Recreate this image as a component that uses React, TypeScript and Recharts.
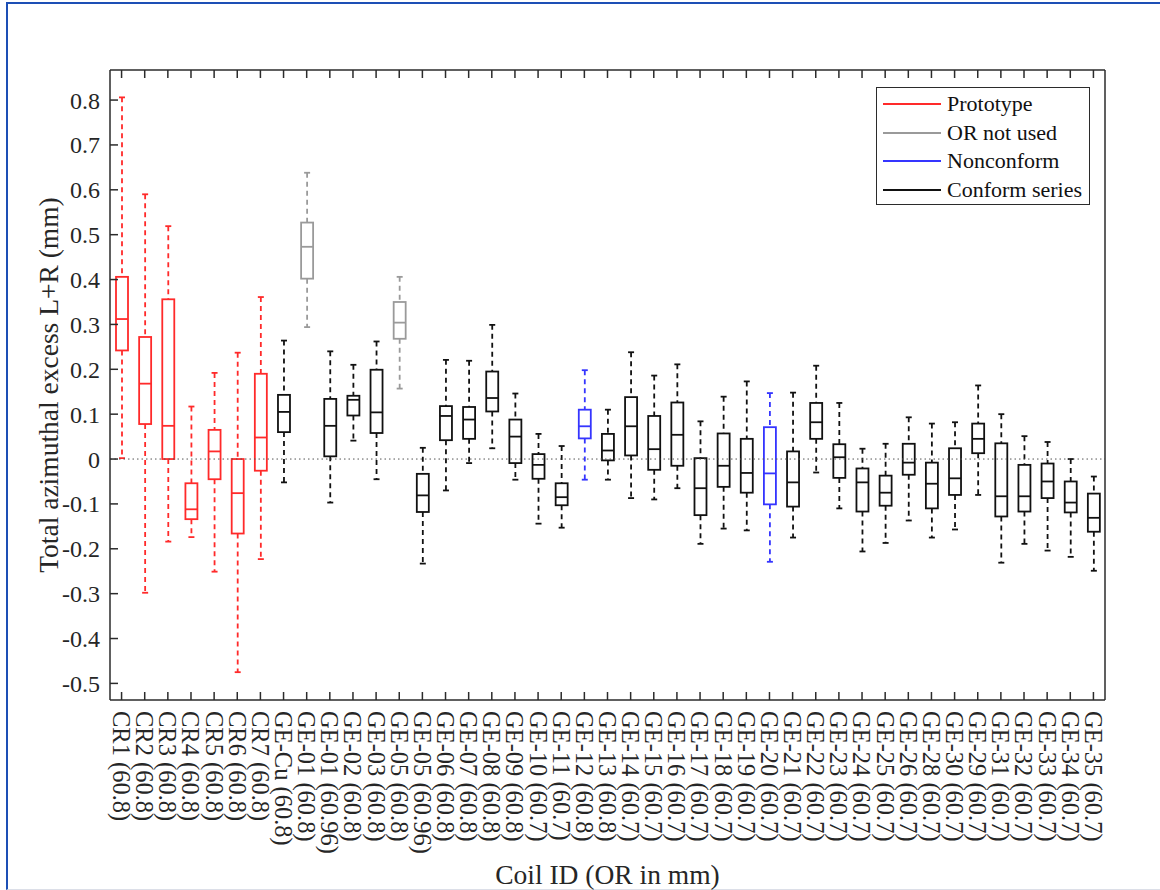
import {Bar, ComposedChart, Legend, ReferenceLine, XAxis, YAxis} from 'recharts';

// coil ids in plot order (OR in mm)
const coilIds = [
    'CR1 (60.8)', 'CR2 (60.8)', 'CR3 (60.8)', 'CR4 (60.8)', 'CR5 (60.8)', 'CR6 (60.8)', 'CR7 (60.8)',
    'GE-Cu (60.8)', 'GE-01 (60.8)', 'GE-01 (60.96)', 'GE-02 (60.8)', 'GE-03 (60.8)', 'GE-05 (60.8)',
    'GE-05 (60.96)', 'GE-06 (60.8)', 'GE-07 (60.8)', 'GE-08 (60.8)', 'GE-09 (60.8)', 'GE-10 (60.7)',
    'GE-11 (60.7)', 'GE-12 (60.8)', 'GE-13 (60.8)', 'GE-14 (60.7)', 'GE-15 (60.7)', 'GE-16 (60.7)',
    'GE-17 (60.7)', 'GE-18 (60.7)', 'GE-19 (60.7)', 'GE-20 (60.7)', 'GE-21 (60.7)', 'GE-22 (60.7)',
    'GE-23 (60.7)', 'GE-24 (60.7)', 'GE-25 (60.7)', 'GE-26 (60.7)', 'GE-28 (60.7)', 'GE-30 (60.7)',
    'GE-29 (60.7)', 'GE-31 (60.7)', 'GE-32 (60.7)', 'GE-33 (60.7)', 'GE-34 (60.7)', 'GE-35 (60.7)',
];

// P = prototype, U = OR not used, N = nonconform, C = conform series
const groups = [
    'P', 'P', 'P', 'P', 'P', 'P', 'P',
    'C', 'U', 'C', 'C', 'C', 'U',
    'C', 'C', 'C', 'C', 'C', 'C',
    'C', 'N', 'C', 'C', 'C', 'C',
    'C', 'C', 'C', 'N', 'C', 'C',
    'C', 'C', 'C', 'C', 'C', 'C',
    'C', 'C', 'C', 'C', 'C', 'C',
];

const whiskerHigh = [
    0.806, 0.590, 0.519, 0.117, 0.192, 0.237, 0.361,
    0.264, 0.638, 0.240, 0.210, 0.262, 0.406,
    0.025, 0.221, 0.219, 0.299, 0.146, 0.056,
    0.029, 0.198, 0.110, 0.238, 0.186, 0.211,
    0.084, 0.139, 0.173, 0.147, 0.148, 0.208,
    0.125, 0.023, 0.034, 0.093, 0.079, 0.082,
    0.164, 0.100, 0.051, 0.038, 0.000, -0.039,
];

const q3s = [
    0.406, 0.272, 0.356, -0.054, 0.065, 0.000, 0.190,
    0.143, 0.527, 0.134, 0.141, 0.199, 0.350,
    -0.033, 0.118, 0.116, 0.195, 0.088, 0.011,
    -0.054, 0.110, 0.056, 0.138, 0.096, 0.126,
    0.002, 0.057, 0.045, 0.071, 0.017, 0.125,
    0.033, -0.021, -0.037, 0.034, -0.008, 0.024,
    0.079, 0.035, -0.013, -0.010, -0.050, -0.077,
];

const medians = [
    0.312, 0.168, 0.074, -0.112, 0.017, -0.076, 0.048,
    0.105, 0.473, 0.074, 0.132, 0.104, 0.304,
    -0.081, 0.096, 0.088, 0.136, 0.050, -0.013,
    -0.085, 0.073, 0.019, 0.073, 0.022, 0.054,
    -0.065, -0.015, -0.031, -0.032, -0.052, 0.082,
    0.004, -0.052, -0.075, -0.008, -0.055, -0.043,
    0.045, -0.083, -0.083, -0.050, -0.097, -0.131,
];

const q1s = [
    0.242, 0.078, 0.000, -0.134, -0.045, -0.166, -0.026,
    0.060, 0.402, 0.006, 0.097, 0.058, 0.268,
    -0.118, 0.042, 0.045, 0.106, -0.009, -0.044,
    -0.103, 0.046, -0.003, 0.008, -0.024, -0.015,
    -0.125, -0.062, -0.075, -0.101, -0.106, 0.045,
    -0.042, -0.117, -0.104, -0.035, -0.110, -0.080,
    0.013, -0.128, -0.117, -0.087, -0.119, -0.162,
];

const whiskerLow = [
    0.002, -0.298, -0.184, -0.174, -0.251, -0.475, -0.223,
    -0.052, 0.294, -0.097, 0.041, -0.045, 0.157,
    -0.233, -0.070, -0.009, 0.024, -0.046, -0.144,
    -0.153, -0.046, -0.046, -0.087, -0.090, -0.065,
    -0.189, -0.155, -0.159, -0.229, -0.175, -0.030,
    -0.110, -0.206, -0.187, -0.137, -0.175, -0.157,
    -0.080, -0.231, -0.189, -0.204, -0.218, -0.249,
];

const yTicks = [-0.5, -0.4, -0.3, -0.2, -0.1, 0, 0.1, 0.2, 0.3, 0.4, 0.5, 0.6, 0.7, 0.8];

const legendItems = [
    {key: 'P', name: 'Prototype'},
    {key: 'U', name: 'OR not used'},
    {key: 'N', name: 'Nonconform'},
    {key: 'C', name: 'Conform series'},
];

const groupColor: Record<string, string> = {P: '#ff2a2a', U: '#9a9a9a', N: '#3535ff', C: '#111111'};
const FONT = 'Liberation Serif';
const AXIS = '#2b2b2b';

const rows = coilIds.map((id, i) => ({
    id,
    group: groups[i],
    range: [whiskerLow[i], whiskerHigh[i]],
    q1: q1s[i],
    median: medians[i],
    q3: q3s[i],
}));

const BoxShape = (props: any) => {
    const {x, y, width, height, payload} = props;
    if (x == null || y == null) return null;
    const top = Math.min(y, y + height);
    const bottom = Math.max(y, y + height);
    const [lo, hi] = payload.range;
    const toPx = (v: number) => (hi === lo ? top : bottom - ((v - lo) / (hi - lo)) * (bottom - top));
    const color = groupColor[payload.group];
    const cx = x + width / 2;
    const yq3 = toPx(payload.q3);
    const yq1 = toPx(payload.q1);
    const ymed = toPx(payload.median);
    const cap = width * 0.25;
    return (
        <g stroke={color} fill="none" strokeWidth={1.8}>
            <line x1={cx} x2={cx} y1={top} y2={yq3} strokeDasharray="5 4"/>
            <line x1={cx} x2={cx} y1={yq1} y2={bottom} strokeDasharray="5 4"/>
            <line x1={cx - cap} x2={cx + cap} y1={top} y2={top}/>
            <line x1={cx - cap} x2={cx + cap} y1={bottom} y2={bottom}/>
            <rect x={x} y={yq3} width={width} height={Math.max(yq1 - yq3, 0.5)}/>
            <line x1={x} x2={x + width} y1={ymed} y2={ymed}/>
        </g>
    );
};

const CoilTick = ({x, y, payload}: any) => (
    <text x={x} y={y} transform={`rotate(90, ${x}, ${y})`} textAnchor="start" dy="0.35em"
          fontSize={24.5} style={{fontFamily: FONT}} fill="#262626">
        {payload.value}
    </text>
);

const YTitle = ({viewBox}: any) => {
    const cx = viewBox.x - 12;
    const cy = viewBox.y + viewBox.height / 2;
    return (
        <text x={cx} y={cy} transform={`rotate(-90, ${cx}, ${cy})`} textAnchor="middle" dominantBaseline="central"
              fontSize={27.5} style={{fontFamily: FONT}} fill="#262626">
            Total azimuthal excess L+R (mm)
        </text>
    );
};

const XTitle = ({viewBox}: any) => (
    <text x={viewBox.x + viewBox.width / 2} y={viewBox.y + 184} textAnchor="middle"
          fontSize={27.5} style={{fontFamily: FONT}} fill="#262626">
        Coil ID (OR in mm)
    </text>
);

const LegendBox = () => (
    <div style={{
        width: 214, height: 118, boxSizing: 'border-box', border: `1.5px solid ${AXIS}`, background: '#fff',
        padding: '2px 0 0 6px', fontFamily: FONT, fontSize: 22, color: '#111', lineHeight: 1,
    }}>
        {legendItems.map(item => (
            <div key={item.key} style={{display: 'flex', alignItems: 'center', height: 28.5}}>
                <span style={{display: 'inline-block', width: 58, height: 2, background: groupColor[item.key], marginRight: 6}}/>
                <span>{item.name}</span>
            </div>
        ))}
    </div>
);

export default function App() {
    return (
        <div style={{position: 'absolute', left: 0, top: 0, width: 1160, height: 890, background: '#fff', fontFamily: FONT}}>
            <div style={{
                position: 'absolute', left: 6, top: 2, width: 1160, height: 885,
                borderTop: '2px solid #1d4fb5', borderLeft: '2px solid #1d4fb5', borderBottom: '1px solid #dcdfe8',
            }}/>
            <ComposedChart width={1160} height={890} data={rows}
                           margin={{top: 69, right: 54, bottom: 0, left: 60}}
                           style={{fontFamily: FONT}}>
                <XAxis dataKey="id" interval={0} height={190} tickSize={-8} tickMargin={19}
                       stroke={AXIS} strokeWidth={1.5} tick={<CoilTick/>}
                       label={{content: (p: any) => <XTitle viewBox={p.viewBox}/>}}/>
                <XAxis xAxisId="top" dataKey="id" orientation="top" interval={0} height={1} tickSize={-8}
                       stroke={AXIS} strokeWidth={1.5} tick={() => <g/>}/>
                <YAxis type="number" domain={[-0.537, 0.867]} ticks={yTicks} interval={0} width={50}
                       tickSize={-8} tickMargin={18} stroke={AXIS} strokeWidth={1.5}
                       tickFormatter={(v: number) => (v === 0 ? '0' : v.toFixed(1))}
                       tick={{fontSize: 24, fill: '#262626', style: {fontFamily: FONT}}}
                       label={{content: (p: any) => <YTitle viewBox={p.viewBox}/>}}/>
                <YAxis yAxisId="right" orientation="right" type="number" domain={[-0.537, 0.867]} ticks={yTicks}
                       interval={0} width={1} tickSize={-8} stroke={AXIS} strokeWidth={1.5} tick={() => <g/>}/>
                <ReferenceLine y={0} stroke="#555" strokeWidth={1} strokeDasharray="1.5 3"/>
                <Bar dataKey="range" barSize={12} isAnimationActive={false}
                     shape={(p: any) => <BoxShape {...p}/>}/>
                <Legend layout="horizontal" verticalAlign="middle" align="center"
                        wrapperStyle={{left: 876, top: 87, width: 214, height: 118}}
                        content={() => <LegendBox/>}/>
            </ComposedChart>
        </div>
    );
}
